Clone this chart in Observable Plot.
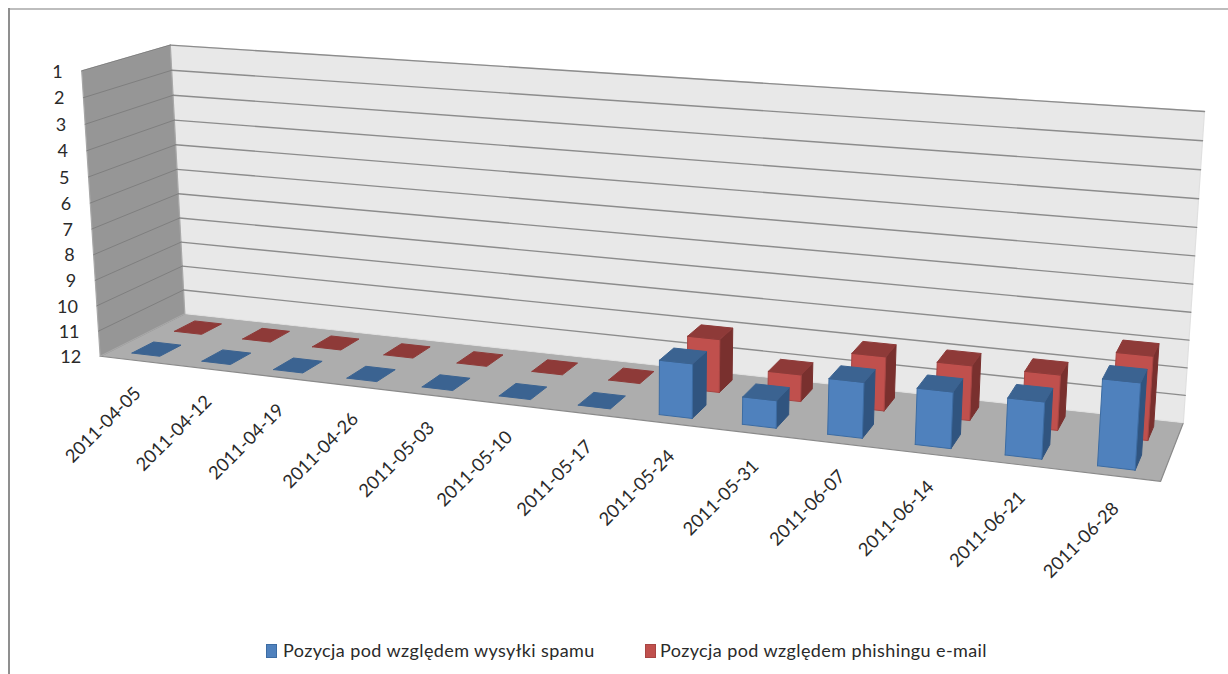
<!DOCTYPE html>
<html>
<head>
<meta charset="utf-8">
<script src="https://cdn.jsdelivr.net/npm/d3@7"></script>
<script src="https://cdn.jsdelivr.net/npm/@observablehq/plot@0.6"></script>
<style>
  html, body { margin: 0; padding: 0; background: #fff; overflow: hidden; }
  #page { position: relative; width: 1228px; height: 674px; font-family: Lato, "Noto Sans", sans-serif; }
  #frameTop { position: absolute; left: 9px; top: 8px; right: 0; height: 2px; background: #bdbdbd; }
  #frameLeft { position: absolute; left: 8px; top: 8px; width: 2px; height: 666px; background: #8f8f8f; }
  #chart svg { display: block; }
  #legend { position: absolute; left: 0; top: 634px; width: 1228px; height: 34px; color: #2a2a2a; font-size: 18px; letter-spacing: 0.4px; }
  #legend .sw { position: absolute; top: 10px; width: 9px; height: 12px; border: 1px solid; }
  #legend .tx { position: absolute; top: 5px; white-space: nowrap; }
</style>
</head>
<body>
<div id="page">
  <div id="chart"></div>
  <div id="frameTop"></div>
  <div id="frameLeft"></div>
  <div id="legend"></div>
</div>
<script>
// Weekly ranking of Poland: position 12 is the chart floor, position 1 the top.
const categories = ["2011-04-05","2011-04-12","2011-04-19","2011-04-26","2011-05-03","2011-05-10","2011-05-17","2011-05-24","2011-05-31","2011-06-07","2011-06-14","2011-06-21","2011-06-28"];
const spamRank =     [12,12,12,12,12,12,12,10,11,10,10,10,9];
const phishingRank = [12,12,12,12,12,12,12,10,11,10,10,10,9];
const rankTicks = [1,2,3,4,5,6,7,8,9,10,11,12];
const seriesNames = ["Pozycja pod względem wysyłki spamu", "Pozycja pod względem phishingu e-mail"];

const WIDTH = 1228, HEIGHT = 632;

// Box corners as [along categories, depth, height] and where the camera sees them.
const cameraAnchors = [
  [0,0,0, 100,356], [1,0,0, 1160,481], [0,1,0, 184,313], [1,1,0, 1183,422],
  [0,0,1, 81,70], [0,1,1, 170,45], [1,1,1, 1204,111]
];

// Least-squares fit of the 3x4 perspective camera matrix (last entry fixed to 1).
function fitCamera(anchors) {
  const rows = [];
  for (const [u,v,w,x,y] of anchors) {
    rows.push([u,v,w,1,0,0,0,0,-x*u,-x*v,-x*w,x]);
    rows.push([0,0,0,0,u,v,w,1,-y*u,-y*v,-y*w,y]);
  }
  const n = 11;
  const A = d3.range(n).map(i => d3.range(n + 1).map(j => d3.sum(rows, r => r[i] * r[j])));
  for (let c = 0; c < n; c++) {
    let p = c;
    for (let r = c + 1; r < n; r++) if (Math.abs(A[r][c]) > Math.abs(A[p][c])) p = r;
    [A[c], A[p]] = [A[p], A[c]];
    for (let r = 0; r < n; r++) {
      if (r === c) continue;
      const f = A[r][c] / A[c][c];
      for (let k = c; k <= n; k++) A[r][k] -= f * A[c][k];
    }
  }
  return A.map((row, i) => row[n] / row[i]);
}
const m = fitCamera(cameraAnchors);
function project(u, v, w) {
  const d = m[8]*u + m[9]*v + m[10]*w + 1;
  return { x: (m[0]*u + m[1]*v + m[2]*w + m[3]) / d, y: (m[4]*u + m[5]*v + m[6]*w + m[7]) / d };
}
const heightOf = rank => (12 - rank) / 11;

// Faces are closed outlines collected in painting order.
const faces = [];
let faceId = 0;
function addFace(corners, fill, stroke) {
  const id = faceId++;
  for (const c of [...corners, corners[0]]) {
    const p = project(...c);
    faces.push({ id, x: p.x, y: p.y, fill, stroke });
  }
}

// Floor and walls
addFace([[0,0,0],[1,0,0],[1,1,0],[0,1,0]], "#adadad", "#8a8a8a");
addFace([[0,1,0],[1,1,0],[1,1,1],[0,1,1]], "#e8e8e8", "#e0e0e0");
addFace([[0,0,0],[0,1,0],[0,1,1],[0,0,1]], "#969696", "#a8a8a8");

// Gridlines on the back and side walls
const gridBack = rankTicks.slice(0, -1).flatMap(r => [0, 1].map(u => ({ r, ...project(u, 1, heightOf(r)) })));
const gridSide = rankTicks.slice(0, -1).flatMap(r => [0, 1].map(v => ({ r, ...project(0, v, heightOf(r)) })));

const palette = [
  { front: "#4f81bd", top: "#3b6391", side: "#30547f", edge: "#3c6ca3" },
  { front: "#c0504d", top: "#8e3a38", side: "#79302e", edge: "#a84543" }
];
const depthBands = [[1/8, 3/8], [5/8, 7/8]];
const slot = categories.length;

function addBars(ranks, band, colors) {
  ranks.forEach((rank, i) => {
    const u0 = (i + 0.3) / slot, u1 = (i + 0.7) / slot;
    const [v0, v1] = band, h = heightOf(rank);
    if (h > 0) {
      addFace([[u1,v0,0],[u1,v1,0],[u1,v1,h],[u1,v0,h]], colors.side, colors.side);
      addFace([[u0,v0,0],[u1,v0,0],[u1,v0,h],[u0,v0,h]], colors.front, colors.edge);
    }
    addFace([[u0,v0,h],[u1,v0,h],[u1,v1,h],[u0,v1,h]], colors.top, colors.top);
  });
}
addBars(phishingRank, depthBands[1], palette[1]);
addBars(spamRank, depthBands[0], palette[0]);

const rankLabels = rankTicks.map(r => ({ r, ...project(0, 0, heightOf(r)) }));
const dateLabels = categories.map((c, i) => ({ c, ...project((i + 0.5) / slot, 0, 0) }));

const chart = Plot.plot({
  width: WIDTH, height: HEIGHT,
  margin: 0,
  x: { type: "identity", axis: null },
  y: { type: "identity", axis: null },
  color: { type: "identity" },
  style: { background: "transparent", fontFamily: "Lato, 'Noto Sans', sans-serif" },
  marks: [
    // floor and walls are the first three faces, the bars follow the gridlines
    Plot.line(faces.filter(d => d.id < 3), { x: "x", y: "y", z: "id", fill: "fill", stroke: "stroke", strokeWidth: 1.2, curve: "linear" }),
    Plot.line(gridBack, { x: "x", y: "y", z: "r", stroke: "#8c8c8c", strokeWidth: 1.4 }),
    Plot.line(gridSide, { x: "x", y: "y", z: "r", stroke: "#7f7f7f", strokeWidth: 1 }),
    Plot.line(faces.filter(d => d.id >= 3), { x: "x", y: "y", z: "id", fill: "fill", stroke: "stroke", strokeWidth: 1, curve: "linear", strokeLinejoin: "round" }),
    Plot.text(rankLabels, { x: "x", y: "y", text: d => String(d.r), textAnchor: "end", dx: -19, dy: 1, fontSize: 18, fill: "#2a2a2a" }),
    Plot.text(dateLabels, { x: "x", y: "y", text: "c", rotate: -45, textAnchor: "end", dx: 3, dy: 30, fontSize: 18.2, fill: "#2a2a2a" })
  ]
});
document.getElementById("chart").append(chart);

// Legend below the plot
const legend = document.getElementById("legend");
[[266, 283], [645, 660]].forEach(([sx, tx], i) => {
  const sw = document.createElement("div");
  sw.className = "sw";
  sw.style.left = sx + "px";
  sw.style.background = palette[i].front;
  sw.style.borderColor = palette[i].edge;
  legend.append(sw);
  const t = document.createElement("div");
  t.className = "tx";
  t.style.left = tx + "px";
  t.textContent = seriesNames[i];
  legend.append(t);
});
</script>
</body>
</html>
